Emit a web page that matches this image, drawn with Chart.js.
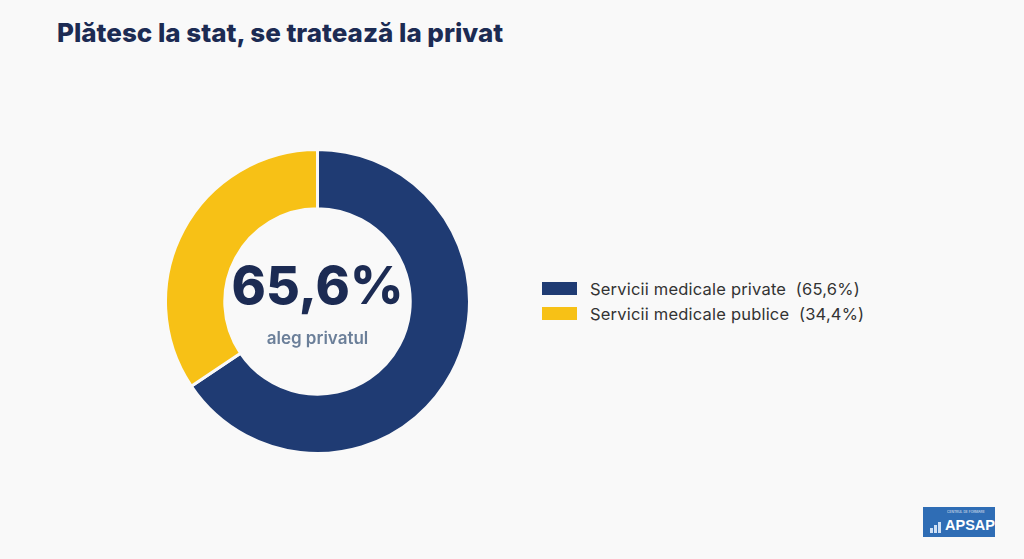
<!DOCTYPE html>
<html>
<head>
<meta charset="utf-8">
<script src="https://cdn.jsdelivr.net/npm/chart.js@4"></script>
<style>
  html, body { margin: 0; padding: 0; background: #f9f9f9; }
  body { width: 1024px; height: 559px; position: relative; overflow: hidden; font-family: Inter, "Noto Sans", sans-serif; }
  h1 { position: absolute; left: 57px; top: 17px; margin: 0; font-size: 26px; font-weight: 800; color: #1c2b53; letter-spacing: 0px; white-space: nowrap; }
  #chart-box { position: absolute; left: 164px; top: 148px; width: 307px; height: 307px; }
  #legend { position: absolute; left: 542px; top: 276px; }
  .item { display: flex; align-items: center; height: 25px; font-size: 16.5px; color: #333; letter-spacing: 0.2px; white-space: nowrap; }
  .sw { width: 35px; height: 13px; margin-right: 13px; }
  .logo { position: absolute; left: 923px; top: 507px; width: 72px; height: 30px; background: #2f6db5; color: #fff; overflow: hidden; }
  .logo .small { position: absolute; left: 24px; top: 3px; font-size: 6px; line-height: 6px; transform: scale(0.55); transform-origin: left top; opacity: 0.85; white-space: nowrap; }
  .logo .big { position: absolute; left: 22px; top: 10px; font-size: 14.5px; line-height: 16px; font-weight: 800; font-family: "Liberation Sans", Arial, sans-serif; white-space: nowrap; }
  .logo .bars { position: absolute; left: 7px; top: 12px; width: 14px; height: 14px; }
  .logo .bars span { position: absolute; bottom: 0; width: 3px; background: #cfe0f5; }
</style>
</head>
<body>
<h1>Plătesc la stat, se tratează la privat</h1>
<div id="chart-box"><canvas id="donut"></canvas></div>
<div id="legend"></div>
<div class="logo">
  <div class="bars"><span style="left:0;height:5px"></span><span style="left:4px;height:8px"></span><span style="left:8px;height:11px"></span></div>
  <div class="small">CENTRUL DE FORMARE</div>
  <div class="big">APSAP</div>
</div>
<script>
// donnees
var categories = ['Servicii medicale private', 'Servicii medicale publice'];
var valeurs = [65.6, 34.4];
var couleurs = ['#1f3b73', '#f7c116'];
var texteCentre = '65,6%';
var sousTexte = 'aleg privatul';

function fmt(v) { return v.toFixed(1).replace('.', ','); }

// legende html
var leg = document.getElementById('legend');
categories.forEach(function(cat, i) {
    var d = document.createElement('div');
    d.className = 'item';
    d.innerHTML = '<span class="sw" style="background:' + couleurs[i] + '"></span>' + cat + '&nbsp; (' + fmt(valeurs[i]) + '%)';
    leg.appendChild(d);
});

// texte au centre
var centreTexte = {
    id: 'centreTexte',
    afterDraw: function(chart) {
        var ctx = chart.ctx;
        var meta = chart.getDatasetMeta(0).data[0];
        var x = meta.x, y = meta.y;
        ctx.save();
        ctx.textAlign = 'center';
        ctx.textBaseline = 'alphabetic';
        ctx.fillStyle = '#1c2b53';
        ctx.font = '800 52px Inter, "Noto Sans", sans-serif';
        ctx.fillText(texteCentre, x, y + 2);
        ctx.fillStyle = '#6b7f99';
        ctx.font = '600 17px Inter, "Noto Sans", sans-serif';
        ctx.fillText(sousTexte, x, y + 42);
        ctx.restore();
    }
};

var ctx = document.getElementById('donut').getContext('2d');
var graphique = new Chart(ctx, {
    type: 'doughnut',
    data: {
        labels: categories,
        datasets: [{
            data: valeurs,
            backgroundColor: couleurs,
            borderColor: '#f9f9f9',
            borderWidth: 3
        }]
    },
    options: {
        responsive: true,
        maintainAspectRatio: true,
        animation: false,
        cutout: '61%',
        plugins: {
            legend: { display: false },
            tooltip: { enabled: false }
        }
    },
    plugins: [centreTexte]
});
</script>
</body>
</html>
